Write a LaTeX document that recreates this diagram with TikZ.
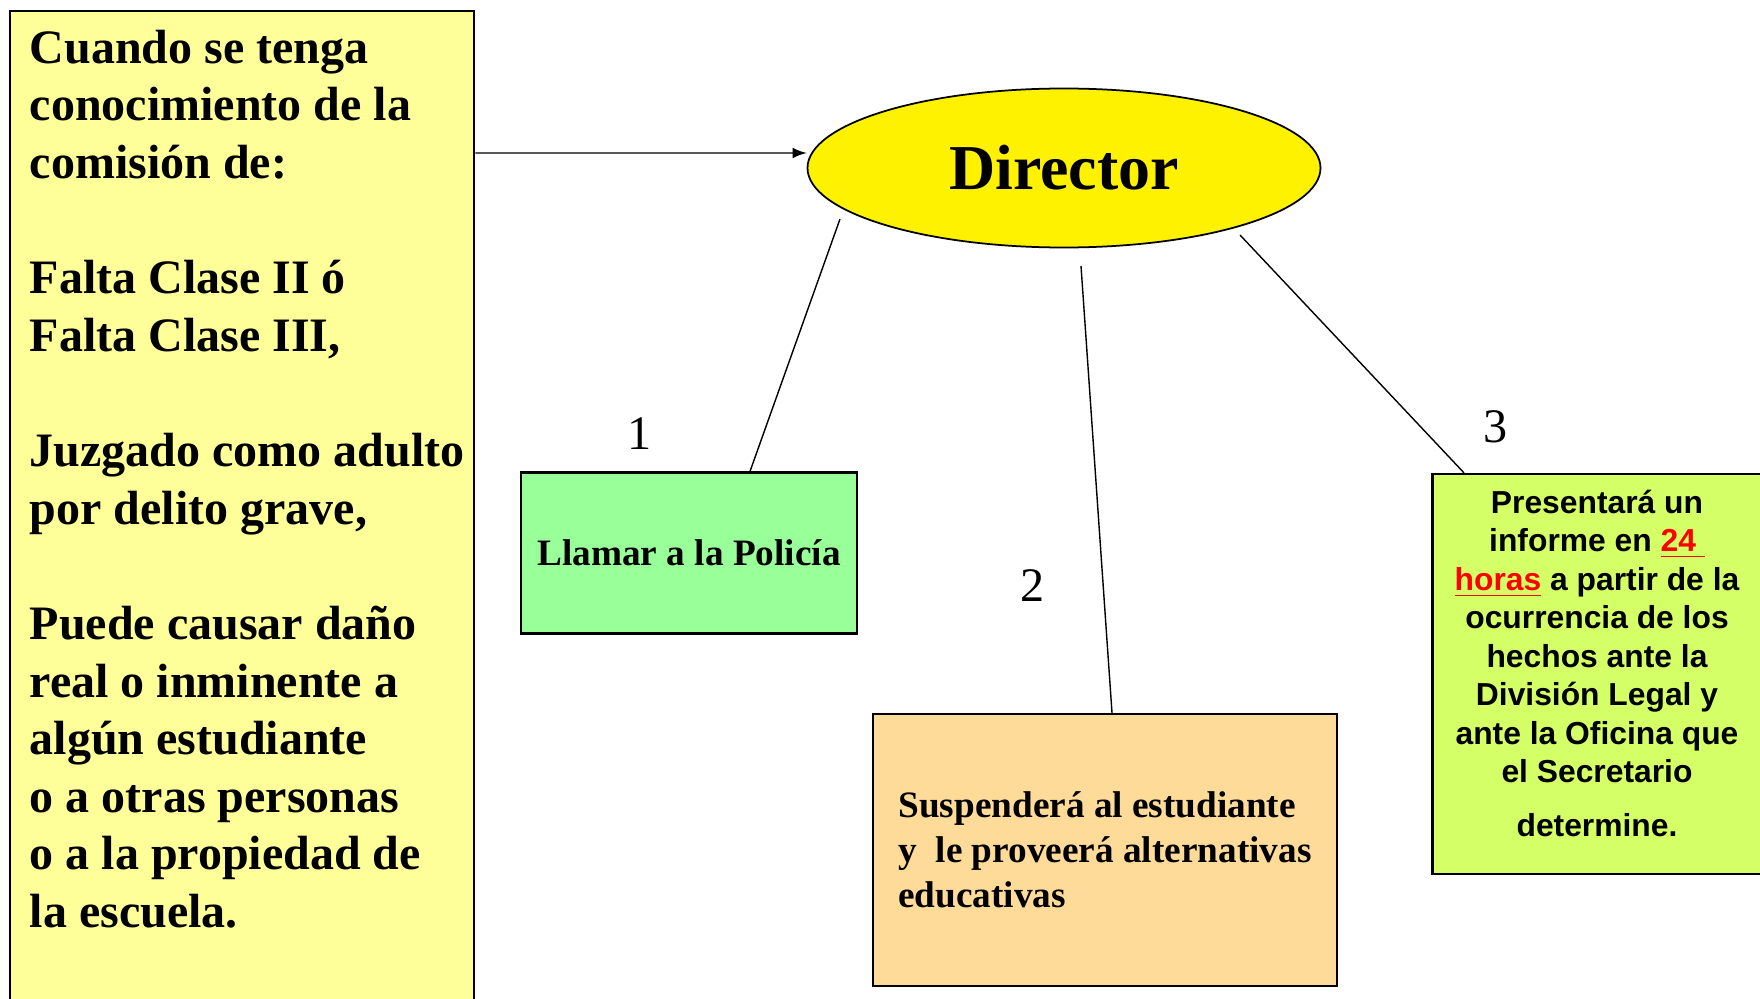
\documentclass[tikz,border=0pt]{standalone}
\usepackage{fontspec}
\setmainfont{Liberation Serif}
\newfontfamily\arialfont{Liberation Sans}
\usetikzlibrary{shapes.geometric}
\definecolor{condfill}{HTML}{FFFF99}
\definecolor{polfill}{HTML}{99FF99}
\definecolor{susfill}{HTML}{FFDB99}
\definecolor{inffill}{HTML}{D4FF66}
\definecolor{red}{rgb}{1.0,0.0,0.0}

\begin{document}
\begin{tikzpicture}[x=0.1mm,y=-0.1mm,
  box/.style={draw,line width=0.65pt,inner sep=0pt},
  link/.style={-,line width=0.4pt},
  num/.style={font=\fontsize{13.7}{16}\selectfont,inner sep=0pt}]
\useasboundingbox (0,0) rectangle (1760,998);
\node[box,fill=condfill,anchor=north west,minimum width=46.4mm,minimum height=100mm] (cond) at (9,10) {};
\node[anchor=north west,inner sep=0pt,align=left,font=\bfseries\fontsize{13.66}{16.4}\selectfont] (condtext) at (29,29) {Cuando se tenga\\conocimiento de la\\comisión de:\\[16.4pt]Falta Clase II ó\\Falta Clase III,\\[16.4pt]Juzgado como adulto\\por delito grave,\\[16.4pt]Puede causar daño\\real o inminente a\\algún estudiante\\o a otras personas\\o a la propiedad de\\la escuela.};
\node[ellipse,draw,line width=0.5pt,fill=yellow,minimum width=51.3mm,minimum height=15.9mm,inner sep=0pt,font=\bfseries\fontsize{18.2}{20}\selectfont] (dir) at (1064,168) {Director};
\node[box,fill=polfill,minimum width=33.6mm,minimum height=16.1mm,font=\bfseries\fontsize{10.6}{12.8}\selectfont] (pol) at (689,553) {\raisebox{-0.8pt}{Llamar a la Policía}};
\node[box,fill=susfill,minimum width=46.4mm,minimum height=27.2mm,align=left,font=\bfseries\fontsize{10.6}{12.8}\selectfont] (sus) at (1105,850) {Suspenderá al estudiante\\y\ \ le proveerá alternativas\\educativas};
\node[box,fill=inffill,minimum width=32.9mm,minimum height=40mm,align=center,font=\arialfont\bfseries\fontsize{9.05}{10.95}\selectfont] (inf) at (1597,674) {Presentará un\\informe en \textcolor{red}{\underline{24\ }}\\\textcolor{red}{\underline{horas}} a partir de la\\ocurrencia de los\\hechos ante la\\División Legal y\\ante la Oficina que\\el Secretario\\[4.5pt]determine.\rule[-6pt]{0pt}{6pt}};
\node[num] (n1) at (640,434) {1};
\node[num] (n2) at (1033,586) {2};
\node[num] (n3) at (1496,427) {3};
\draw [-latex,line width=0.4pt] ([yshift=-14.3mm]cond.north east) -- ([yshift=1.5mm]dir.west);
\draw [link] ([xshift=6.1mm]pol.north) -- ([xshift=-22.4mm,yshift=-5.1mm]dir.center);
\draw [link] ([xshift=0.7mm]sus.north) -- ([xshift=1.7mm,yshift=-9.8mm]dir.center);
\draw [link] ([xshift=-13.3mm]inf.north) -- ([xshift=17.6mm,yshift=-6.7mm]dir.center);
\end{tikzpicture}
\end{document}
